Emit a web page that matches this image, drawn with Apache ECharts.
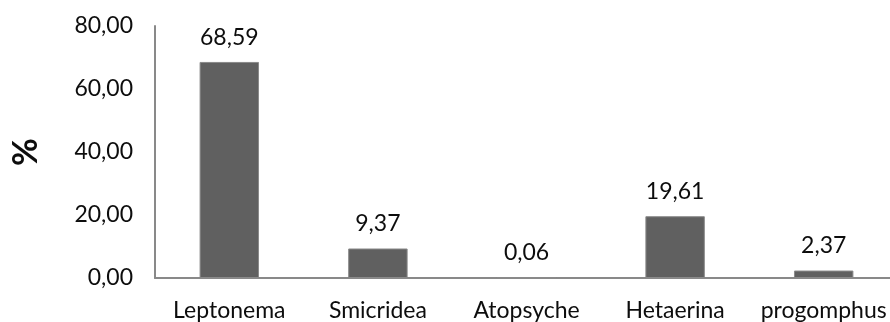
<!DOCTYPE html>
<html>
<head>
<meta charset="utf-8">
<script src="https://cdn.jsdelivr.net/npm/echarts@6/dist/echarts.min.js"></script>
<style>
  html, body { margin: 0; padding: 0; background: #fff; }
  #chart { width: 890px; height: 322px; }
</style>
</head>
<body>
<div id="chart"></div>
<script>
// Genera share, in percent
const categories = ['Leptonema', 'Smicridea', 'Atopsyche', 'Hetaerina', 'progomphus'];
const percentValues = [68.59, 9.37, 0.06, 19.61, 2.37];
const yTicks = { min: 0, max: 80, interval: 20 };

const FONT = 'Lato, "Open Sans", sans-serif';
const fmt = v => Number(v).toFixed(2).replace('.', ',');

const chart = echarts.init(document.getElementById('chart'), null, { renderer: 'canvas' });
chart.setOption({
  animation: false,
  backgroundColor: '#ffffff',
  grid: { left: 155, right: -8, top: 26, bottom: 44, containLabel: false, outerBoundsMode: 'none' },
  xAxis: {
    type: 'category',
    data: categories,
    axisLine: { show: true, lineStyle: { color: '#898989', width: 2 } },
    axisTick: { show: false },
    axisLabel: { color: '#0d0d0d', fontFamily: FONT, fontSize: 23, margin: 21, interval: 0 },
    splitLine: { show: false }
  },
  yAxis: {
    type: 'value',
    min: yTicks.min,
    max: yTicks.max,
    interval: yTicks.interval,
    name: '%',
    nameLocation: 'middle',
    nameGap: 112,
    nameTextStyle: { color: '#0d0d0d', fontFamily: FONT, fontSize: 34, fontWeight: 'bold', padding: [0, 0, 0, 0] },
    axisLine: { show: true, lineStyle: { color: '#898989', width: 2 } },
    axisTick: { show: false },
    axisLabel: { color: '#0d0d0d', fontFamily: FONT, fontSize: 23, margin: 22, formatter: fmt },
    splitLine: { show: false }
  },
  series: [{
    type: 'bar',
    data: percentValues,
    barWidth: '40%',
    itemStyle: { color: '#606060', borderColor: '#8a8a8a', borderWidth: 1 },
    label: {
      show: true,
      position: 'top',
      distance: 13,
      color: '#0d0d0d',
      fontFamily: FONT,
      fontSize: 23,
      formatter: p => fmt(p.value)
    }
  }]
});
</script>
</body>
</html>
